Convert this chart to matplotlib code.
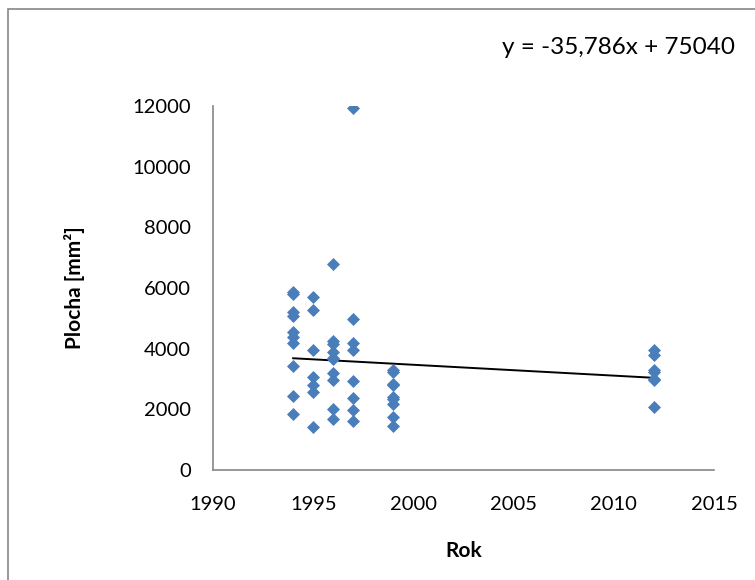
import matplotlib.pyplot as plt
from matplotlib.patches import Rectangle

# data
rok = ([1994] * 10 + [1995] * 7 + [1996] * 10 + [1997] * 8 +
       [1999] * 9 + [2012] * 7)
plocha = [5880, 5810, 5220, 5080, 4560, 4400, 4200, 3430, 2440, 1830,
          5690, 5260, 3950, 3080, 2800, 2560, 1430,
          6780, 4250, 4150, 3900, 3700, 3650, 3200, 2950, 2010, 1680,
          11920, 4970, 4180, 3950, 2920, 2360, 1970, 1610,
          3300, 3230, 2840, 2800, 2420, 2330, 2180, 1750, 1450,
          3960, 3800, 3300, 3230, 3000, 2950, 2090]

trend_slope = -35.786
trend_intercept = 75040
rovnice = "y = -35,786x + 75040"

x_ticks = [1990, 1995, 2000, 2005, 2010, 2015]
y_ticks = [0, 2000, 4000, 6000, 8000, 10000, 12000]

plt.rcParams['font.family'] = ['Lato', 'DejaVu Sans']

fig = plt.figure(figsize=(7.55, 5.8), dpi=100)
ax = fig.add_axes([0.2821, 0.1897, 0.6636, 0.6276])

ax.scatter(rok, plocha, marker='D', s=44, color='#4A7EBB', zorder=3, linewidths=0)

tx = [min(rok), max(rok)]
ty = [trend_slope * v + trend_intercept for v in tx]
ax.plot(tx, ty, color='black', linewidth=1.4, zorder=2)

ax.set_xlim(1990, 2015)
ax.set_ylim(0, 12000)
ax.set_xticks(x_ticks)
ax.set_yticks(y_ticks)
ax.tick_params(length=0, labelsize=14.5, pad=16)
ax.tick_params(axis='x', pad=19)

for side in ['top', 'right']:
    ax.spines[side].set_visible(False)
for side in ['left', 'bottom']:
    ax.spines[side].set_color('#868686')
    ax.spines[side].set_linewidth(1.2)

ax.set_xlabel("Rok", fontsize=15, fontweight='bold', labelpad=20)
ax.set_ylabel("Plocha [mm²]", fontsize=15, fontweight='bold', labelpad=34)

fig.text(502 / 755, 1 - 48 / 580, rovnice, fontsize=17.5, va='center', ha='left')

# outer chart frame
fig.patches.append(Rectangle((8 / 755, -0.1), 1.2, 1 - 9 / 580 + 0.1,
                             transform=fig.transFigure, fill=False,
                             edgecolor='#868686', linewidth=1.2))

fig.savefig('out.png', dpi=100)
